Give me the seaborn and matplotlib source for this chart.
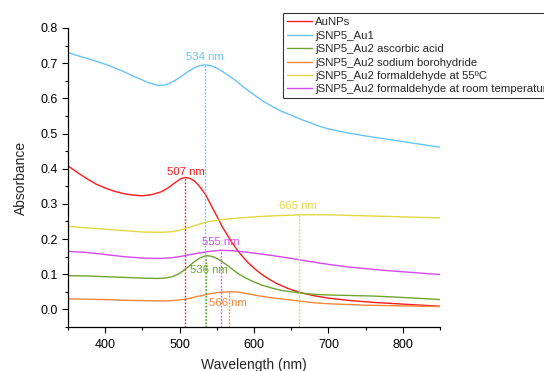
import matplotlib
matplotlib.use("Agg")
import matplotlib.pyplot as plt
import seaborn as sns
import pandas as pd
from matplotlib.ticker import MultipleLocator, FormatStrFormatter

sns.set_style("ticks")
plt.rcParams['font.family'] = ['Liberation Sans', 'DejaVu Sans']

series_names = [
    "AuNPs",
    "jSNP5_Au1",
    "jSNP5_Au2 ascorbic acid",
    "jSNP5_Au2 sodium borohydride",
    "jSNP5_Au2 formaldehyde at 55ºC",
    "jSNP5_Au2 formaldehyde at room temperature",
]
colors = ["#FF1A1A", "#66C4FA", "#6FA52E", "#F5863A", "#E4D642", "#D34AF0"]

wl_red = [350, 362, 375, 387, 400, 412, 425, 437, 450, 462, 475, 485, 495, 502, 507, 513, 520, 527, 535, 542,
          550, 557, 565, 572, 580, 590, 600, 610, 620, 630, 645, 660, 680, 700, 730, 760, 800, 850]
abs_red = [0.408, 0.390, 0.372, 0.357, 0.345, 0.336, 0.329, 0.325, 0.323, 0.326, 0.334, 0.346, 0.362, 0.372, 0.375,
           0.373, 0.365, 0.349, 0.326, 0.297, 0.265, 0.236, 0.208, 0.185, 0.162, 0.137, 0.117, 0.100, 0.086, 0.074,
           0.060, 0.049, 0.039, 0.032, 0.025, 0.020, 0.015, 0.009]

wl_blue = [350, 362, 375, 387, 400, 412, 425, 437, 450, 460, 470, 477, 485, 492, 500, 510, 520, 527, 534, 542,
           550, 560, 575, 587, 600, 612, 625, 637, 650, 662, 675, 687, 700, 725, 750, 775, 800, 825, 850]
abs_blue = [0.730, 0.722, 0.714, 0.706, 0.697, 0.687, 0.676, 0.664, 0.652, 0.643, 0.637, 0.637, 0.641, 0.649,
            0.659, 0.674, 0.687, 0.693, 0.695, 0.693, 0.686, 0.673, 0.651, 0.630, 0.610, 0.592, 0.576, 0.563,
            0.552, 0.541, 0.531, 0.521, 0.513, 0.502, 0.493, 0.485, 0.477, 0.469, 0.461]

wl_green = [350, 375, 400, 425, 450, 470, 480, 490, 498, 505, 512, 520, 527, 536, 543, 550, 557, 565, 572, 580,
            590, 600, 612, 625, 637, 650, 665, 680, 700, 720, 760, 800, 850]
abs_green = [0.096, 0.095, 0.093, 0.091, 0.089, 0.088, 0.089, 0.093, 0.100, 0.110, 0.122, 0.136, 0.146, 0.153,
             0.151, 0.145, 0.136, 0.124, 0.112, 0.100, 0.088, 0.078, 0.068, 0.060, 0.054, 0.050, 0.046, 0.043,
             0.041, 0.040, 0.038, 0.034, 0.028]

wl_orange = [350, 375, 400, 425, 450, 475, 490, 500, 510, 522, 535, 545, 555, 566, 575, 585, 595, 605, 620, 640,
             660, 680, 700, 725, 750, 800, 850]
abs_orange = [0.030, 0.029, 0.028, 0.026, 0.025, 0.024, 0.025, 0.027, 0.030, 0.036, 0.042, 0.046, 0.049, 0.050,
              0.050, 0.047, 0.043, 0.039, 0.034, 0.029, 0.024, 0.019, 0.016, 0.014, 0.012, 0.010, 0.008]

wl_yellow = [350, 375, 400, 425, 450, 475, 490, 500, 510, 520, 530, 540, 550, 560, 580, 600, 625, 650, 665, 700,
             750, 800, 850]
abs_yellow = [0.236, 0.232, 0.228, 0.224, 0.220, 0.219, 0.221, 0.225, 0.231, 0.238, 0.245, 0.250, 0.253, 0.256,
              0.260, 0.263, 0.266, 0.268, 0.269, 0.269, 0.266, 0.263, 0.260]

wl_magenta = [350, 375, 400, 425, 450, 475, 490, 500, 512, 525, 540, 555, 570, 585, 600, 625, 650, 675, 700, 725,
              750, 775, 800, 825, 850]
abs_magenta = [0.165, 0.162, 0.156, 0.150, 0.146, 0.145, 0.147, 0.150, 0.155, 0.160, 0.165, 0.168, 0.167, 0.164,
               0.160, 0.153, 0.145, 0.136, 0.128, 0.121, 0.116, 0.111, 0.107, 0.103, 0.099]

# peak markers
peak_wl = [507, 534, 536, 566, 660, 555]
peak_abs = [0.375, 0.695, 0.153, 0.050, 0.269, 0.168]
peak_labels = ["507 nm", "534 nm", "536 nm", "566 nm", "665 nm", "555 nm"]
label_wl = [509, 534, 539, 565, 659, 555]
label_abs = [0.392, 0.718, 0.111, 0.019, 0.293, 0.191]

wls = [wl_red, wl_blue, wl_green, wl_orange, wl_yellow, wl_magenta]
abss = [abs_red, abs_blue, abs_green, abs_orange, abs_yellow, abs_magenta]

frames = []
for name, w, a in zip(series_names, wls, abss):
    frames.append(pd.DataFrame({"Wavelength": w, "Absorbance": a, "Sample": name}))
df = pd.concat(frames, ignore_index=True)

fig = plt.figure(figsize=(5.44, 3.71), dpi=100)
ax = fig.add_axes([0.125, 0.1186, 0.684, 0.806])

sns.lineplot(data=df, x="Wavelength", y="Absorbance", hue="Sample",
             hue_order=series_names, palette=colors, ax=ax, linewidth=1.0,
             sort=True, estimator=None)

ymin = -0.05
for x, y, c in zip(peak_wl, peak_abs, colors):
    ax.plot([x, x], [ymin, y], linestyle=(0, (1.2, 1.2)), color=c, linewidth=1.0)
for x, y, t, c in zip(label_wl, label_abs, peak_labels, colors):
    ax.text(x, y, t, color=c, fontsize=8.2, ha="center", va="center")

ax.set_xlim(350, 850)
ax.set_ylim(ymin, 0.8)
ax.xaxis.set_major_locator(MultipleLocator(100))
ax.xaxis.set_minor_locator(MultipleLocator(50))
ax.yaxis.set_major_locator(MultipleLocator(0.1))
ax.yaxis.set_minor_locator(MultipleLocator(0.05))
ax.yaxis.set_major_formatter(FormatStrFormatter('%.1f'))
ax.tick_params(which="major", length=4, width=0.8, labelsize=9, direction="out",
               color="black", labelcolor="black")
ax.tick_params(axis="x", which="major", pad=5)
ax.tick_params(which="minor", length=2.5, width=0.8, direction="out", color="black")
for s in ["top", "right"]:
    ax.spines[s].set_visible(False)
for s in ["left", "bottom"]:
    ax.spines[s].set_color("black")
    ax.spines[s].set_linewidth(0.9)
ax.set_xlabel("Wavelength (nm)", fontsize=10, labelpad=5)
ax.set_ylabel("Absorbance", fontsize=10, labelpad=9)

handles, labels = ax.get_legend_handles_labels()
leg = ax.legend(handles, labels, loc="upper left",
                bbox_to_anchor=(282.7 / 544, 1 - 13.3 / 371),
                bbox_transform=fig.transFigure, fontsize=8.2,
                frameon=True, fancybox=False, edgecolor="black",
                handlelength=2.2, handletextpad=0.3, labelspacing=0.30,
                borderpad=0.35, borderaxespad=0.0)
leg.get_frame().set_linewidth(0.8)

fig.savefig("out.png", dpi=100)
